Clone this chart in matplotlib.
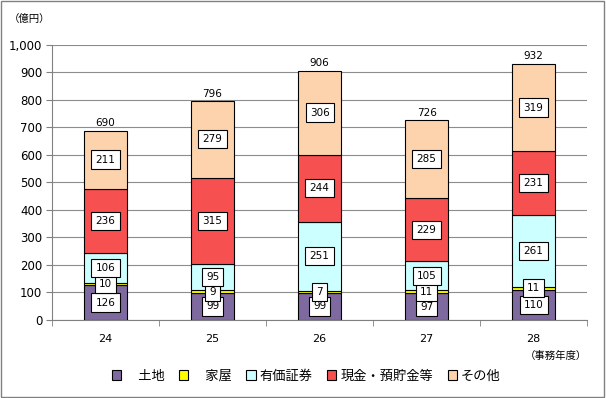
import numpy as np
import matplotlib.pyplot as plt
from matplotlib.patches import Patch, Rectangle

plt.rcParams['font.family'] = ['Noto Sans CJK JP', 'DejaVu Sans']

years = ['24', '25', '26', '27', '28']
series_names = ['土地', '家屋', '有価証券', '現金・預貯金等', 'その他']
land = [126, 99, 99, 97, 110]
house = [10, 9, 7, 11, 11]
securities = [106, 95, 251, 105, 261]
cash = [236, 315, 244, 229, 231]
other = [211, 279, 306, 285, 319]
totals = [690, 796, 906, 726, 932]

colors = ['#7f6aa0', '#ffff00', '#ccffff', '#f75050', '#fcd3ad']

fig = plt.figure(figsize=(6.06, 3.98), dpi=100)
ax = fig.add_axes([0.0858, 0.196, 0.883, 0.691])

x = np.arange(len(years))
bottom = np.zeros(len(years))
for name, vals, col in zip(series_names, [land, house, securities, cash, other], colors):
    vals = np.array(vals)
    ax.bar(x, vals, 0.4, bottom=bottom, color=col, edgecolor='black', linewidth=0.8, zorder=3)
    for xi, b, v in zip(x, bottom, vals):
        ax.text(xi, b + v / 2, str(v), ha='center', va='center', fontsize=7.5,
                family='DejaVu Sans', zorder=5,
                bbox=dict(boxstyle='square,pad=0.4', fc='white', ec='black', lw=0.8))
    bottom = bottom + vals

for xi, t, b in zip(x, totals, bottom):
    ax.text(xi, b + 8, str(t), ha='center', va='bottom', fontsize=7.5, family='DejaVu Sans')

ax.set_xlim(-0.5, len(years) - 0.5)
ax.set_ylim(0, 1000)
ax.set_yticks(np.arange(0, 1001, 100))
ax.set_yticklabels(['{:,}'.format(v) for v in range(0, 1001, 100)], family='DejaVu Sans', fontsize=8.5)
ax.set_xticks(x)
ax.set_xticklabels(years, family='DejaVu Sans', fontsize=8)
ax.set_xticks(np.arange(-0.5, len(years)), minor=True)
ax.tick_params(axis='x', which='major', length=0, pad=10)
ax.tick_params(axis='x', which='minor', length=4, color='#808080', direction='out')
ax.tick_params(axis='y', length=4, color='#808080', direction='out', pad=3)
ax.grid(axis='y', color='#8c8c8c', linewidth=0.8, zorder=0)
for s in ['top', 'right']:
    ax.spines[s].set_visible(False)
for s in ['left', 'bottom']:
    ax.spines[s].set_color('#808080')

fig.text(0.015, 0.952, '（億円）', fontsize=7.5, ha='left', va='center')
fig.text(0.866, 0.105, '（事務年度）', fontsize=7.5, ha='left', va='center')

handles = [Patch(facecolor=c, edgecolor='black', linewidth=0.8) for c in colors]
labels = ['　' + series_names[0], '　' + series_names[1]] + series_names[2:]
fig.legend(handles, labels, loc='center', bbox_to_anchor=(0.505, 0.055), ncol=5,
           frameon=False, fontsize=9.5, handlelength=0.7, handleheight=0.7,
           handletextpad=0.3, columnspacing=1.1)

fig.patches.append(Rectangle((0.002, 0.003), 0.995, 0.994, transform=fig.transFigure,
                             fill=False, edgecolor='#808080', linewidth=1))

fig.savefig('out.png', dpi=100)
